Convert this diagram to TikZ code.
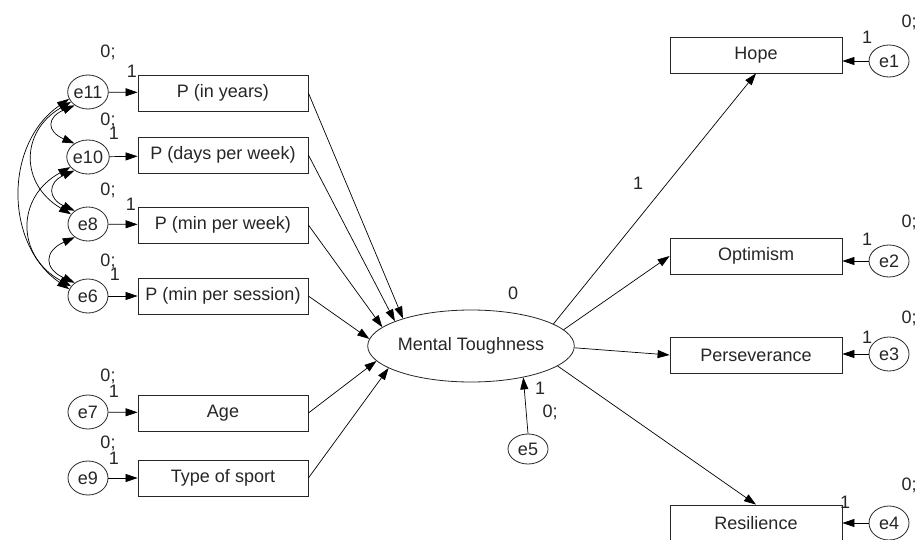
\documentclass[tikz,border=0pt]{standalone}
\usepackage{fontspec}
\setmainfont{Liberation Sans}
\usetikzlibrary{arrows.meta,shapes.geometric}
\begin{document}
\begin{tikzpicture}[x=1pt,y=-1pt,
  every node/.style={font=\fontsize{18}{20}\selectfont, text=black!85},
  obs/.style={draw=black!85, line width=0.8pt, minimum width=170pt, minimum height=36pt, inner sep=0pt},
  err/.style={draw=black!85, ellipse, line width=0.8pt, minimum width=40pt, minimum height=34pt, inner sep=0pt},
  lbl/.style={inner sep=0pt},
  arr/.style={line width=0.7pt, -{Triangle[length=12pt,width=8pt]}},
  cov/.style={line width=0.7pt, {Triangle[length=12pt,width=8pt]}-{Triangle[length=12pt,width=8pt]}},
]
\useasboundingbox (0,0) rectangle (917,540);
\fill[white] (0,0) rectangle (917,540);

% left observed
\node[obs] (py) at (223,93) {P (in years)};
\node[obs] (pd) at (223,155) {P (days per week)};
\node[obs] (pw) at (223,225) {P (min per week)};
\node[obs] (ps) at (223,296) {P (min per session)};
\node[obs] (age) at (223,413) {Age};
\node[obs] (type) at (223,478) {Type of sport};

\node[err] (e11) at (88,92) {e11};
\node[err] (e10) at (88,157) {e10};
\node[err] (e8) at (88,224) {e8};
\node[err] (e6) at (88,296) {e6};
\node[err] (e7) at (88,412) {e7};
\node[err] (e9) at (88,478) {e9};

\node[lbl] (z11) at (108,52) {0;};
\node[lbl] (o11) at (132,71) {1};
\node[lbl] (z10) at (108,120) {0;};
\node[lbl] (o10) at (114,133) {1};
\node[lbl] (z8) at (108,190) {0;};
\node[lbl] (o8) at (131,204) {1};
\node[lbl] (z6) at (108,261) {0;};
\node[lbl] (o6) at (115,274) {1};
\node[lbl] (z7) at (108,376) {0;};
\node[lbl] (o7) at (114,391) {1};
\node[lbl] (z9) at (108,443) {0;};
\node[lbl] (o9) at (114,458) {1};

% latent
\node[draw=black!85, ellipse, line width=0.8pt, minimum width=186pt, minimum height=72pt, inner sep=0pt] (mt) at (471,346) {Mental Toughness};
\node[lbl] (zmt) at (513,293) {0};
\node[err, minimum height=30pt] (e5) at (528,449) {e5};
\node[lbl] (o5) at (540,388) {1};
\node[lbl] (z5) at (550,412) {0;};

% right observed
\node[obs, minimum width=172pt] (hope) at (756,55) {Hope};
\node[obs, minimum width=172pt] (opt) at (756,256) {Optimism};
\node[obs, minimum width=172pt] (per) at (756,355) {Perseverance};
\node[obs, minimum width=172pt] (res) at (756,523) {Resilience};

\node[err, minimum height=32pt] (e1) at (889,61) {e1};
\node[err, minimum height=32pt] (e2) at (889,261) {e2};
\node[err, minimum height=34pt] (e3) at (889,354) {e3};
\node[err, minimum height=34pt] (e4) at (889,523) {e4};

\node[lbl] (o1) at (867,37) {1};
\node[lbl] (z1) at (909,22) {0;};
\node[lbl] (o2) at (867,239) {1};
\node[lbl] (z2) at (909,222) {0;};
\node[lbl] (o3) at (867,337) {1};
\node[lbl] (z3) at (909,318) {0;};
\node[lbl] (o4) at (845,502) {1};
\node[lbl] (z4) at (909,485) {0;};
\node[lbl] (lh) at (638,183) {1};

% error -> observed (left)
\draw[arr] (e11) -- (py);
\draw[arr] (e10) -- (pd);
\draw[arr] (e8) -- (pw);
\draw[arr] (e6) -- (ps);
\draw[arr] (e7) -- (age);
\draw[arr] (e9) -- (type);

% observed -> latent
\draw[arr] (py.east) -- (mt.158);
\draw[arr] (pd.east) -- (mt.162);
\draw[arr] (pw.east) -- (mt.168);
\draw[arr] (ps.east) -- (mt.176);
\draw[arr] (age.east) -- (mt.189);
\draw[arr] (type.east) -- (mt.195);
\draw[arr] (e5.north) -- (mt.-31);

% latent -> right observed
\draw[arr] (mt.15) -- (hope.south);
\draw[arr] (mt.10) -- (opt.west);
\draw[arr] (mt.-1) -- (per.west);
\draw[arr] (mt.-13) -- (res.north);

% error -> observed (right)
\draw[arr] (e1.west) -- (e1.west -| hope.east);
\draw[arr] (e2.west) -- (e2.west -| opt.east);
\draw[arr] (e3.west) -- (e3.west -| per.east);
\draw[arr] (e4.west) -- (e4.west -| res.east);

% covariances
\draw[cov] (e11.225) .. controls +(-28,12) and +(-28,-12) .. (e10.135);
\draw[cov] (e10.225) .. controls +(-27,12) and +(-27,-12) .. (e8.135);
\draw[cov] (e8.225) .. controls +(-31,14) and +(-31,-14) .. (e6.135);
\draw[cov] (e11.210) .. controls +(-51,30) and +(-51,-30) .. (e8.150);
\draw[cov] (e10.210) .. controls +(-55,30) and +(-55,-30) .. (e6.150);
\draw[cov] (e11.200) .. controls +(-65,45) and +(-65,-45) .. (e6.160);
\end{tikzpicture}
\end{document}
